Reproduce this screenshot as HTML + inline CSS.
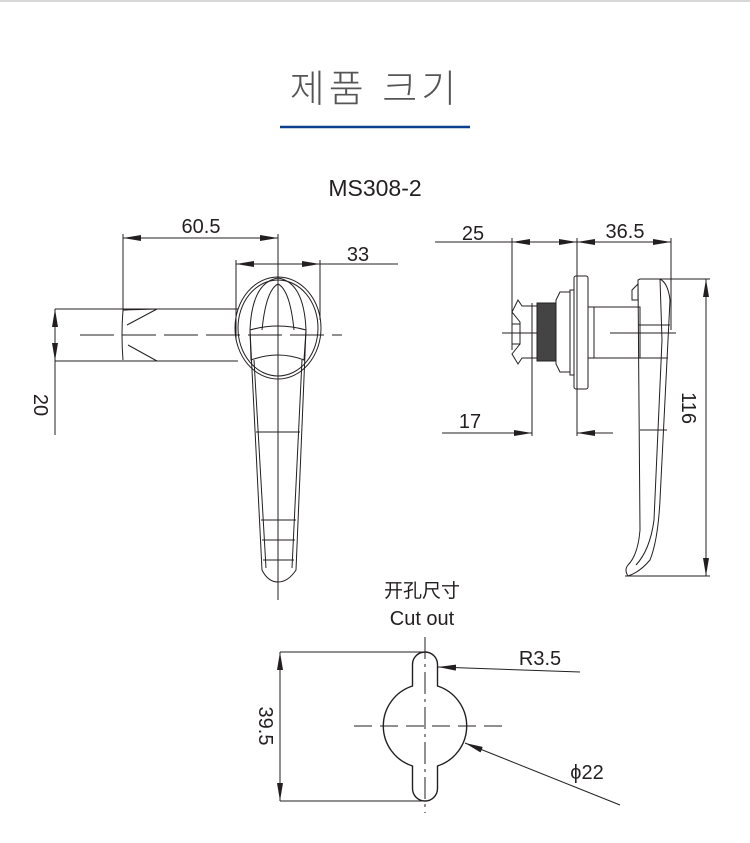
<!DOCTYPE html>
<html><head><meta charset="utf-8"><style>
html,body{margin:0;padding:0;background:#fff;}
svg{display:block;}
text{font-family:"Liberation Sans","Noto Sans CJK SC",sans-serif;fill:#231f20;}
</style></head><body>
<svg width="750" height="843" viewBox="0 0 750 843" xmlns="http://www.w3.org/2000/svg">
<defs>
<marker id="a" viewBox="0 0 18 6" refX="18" refY="3" markerWidth="18" markerHeight="6" markerUnits="userSpaceOnUse" orient="auto-start-reverse"><path d="M0,0 L18,3 L0,6 Z" fill="#231f20"/></marker>
</defs>
<line x1="0" y1="1" x2="750" y2="1" stroke="#ccc" stroke-width="1.5"/>
<text x="375" y="102" font-size="38" text-anchor="middle" style="fill:#555;font-family:'Liberation Sans','Noto Sans CJK KR',sans-serif;font-weight:300" letter-spacing="4">제품 크기</text>
<line x1="280" y1="127" x2="470" y2="127" stroke="#0d3f8f" stroke-width="2.5"/>
<text x="375" y="196" font-size="23" text-anchor="middle">MS308-2</text>

<g stroke="#231f20" stroke-width="1" fill="none">
<line x1="123" y1="238" x2="278" y2="238" marker-start="url(#a)" marker-end="url(#a)"/>
<line x1="123" y1="234" x2="123" y2="312"/>
<line x1="236" y1="264" x2="320" y2="264" marker-start="url(#a)" marker-end="url(#a)"/>
<line x1="320" y1="264" x2="398" y2="264"/>
<line x1="236" y1="260" x2="236" y2="340"/>
<line x1="320" y1="260" x2="320" y2="320"/>
<line x1="278" y1="234" x2="278" y2="600"/>
<line x1="55" y1="309" x2="238" y2="309"/>
<line x1="55" y1="361" x2="238" y2="361"/>
<line x1="55" y1="309" x2="55" y2="361" marker-start="url(#a)" marker-end="url(#a)"/>
<line x1="55" y1="361" x2="55" y2="435"/>
<line x1="80" y1="335" x2="342" y2="335" stroke-dasharray="34,8"/>
<path d="M123,310 Q121,335 123,360 M123,310 L157,309 L127,325 M128,345 L157,361 L126,361"/>
<ellipse cx="278" cy="328" rx="43" ry="51"/>
<ellipse cx="278" cy="328" rx="40" ry="48"/>
<path d="M250,330 Q252,282 278,278 Q304,282 306,330"/>
<path d="M262,330 Q266,290 278,284 Q290,290 294,330"/>
<path d="M250,330 Q278,322 306,330 L304,360 Q278,350 251,360 Z"/>
<path d="M250,330 L262,570 Q268,582 278,582 Q288,582 296,570 L306,330"/>
<path d="M254,360 L266,568 M302,360 L292,568"/>
<line x1="256" y1="432" x2="300" y2="432"/>
<line x1="261" y1="520" x2="296" y2="520"/>
<line x1="262" y1="540" x2="295" y2="540"/>
<line x1="263" y1="560" x2="294" y2="560"/>

<line x1="435" y1="242" x2="512" y2="242"/>
<line x1="512" y1="242" x2="577" y2="242" marker-start="url(#a)" marker-end="url(#a)"/>
<line x1="577" y1="242" x2="671" y2="242" marker-start="url(#a)" marker-end="url(#a)"/>
<line x1="512" y1="238" x2="512" y2="350"/>
<line x1="577" y1="238" x2="577" y2="436"/>
<line x1="671" y1="238" x2="671" y2="330"/>
<line x1="442" y1="433" x2="532" y2="433" marker-end="url(#a)"/>
<line x1="577" y1="433" x2="613" y2="433" marker-start="url(#a)"/>
<line x1="532" y1="303" x2="532" y2="436"/>
<line x1="640" y1="279" x2="710" y2="279"/>
<line x1="625" y1="576" x2="710" y2="576"/>
<line x1="706" y1="279" x2="706" y2="576" marker-start="url(#a)" marker-end="url(#a)"/>
<line x1="502" y1="333" x2="555" y2="333"/>
<line x1="610" y1="333" x2="676" y2="333"/>
<rect x="574" y="276" width="14" height="113" rx="2"/>
<rect x="570" y="290" width="4" height="85"/>
<path d="M556,300 L560,292 L570,292 L570,372 L560,372 L556,364 Z"/>
<rect x="537" y="303" width="19" height="58" fill="#444"/>
<path d="M537,306 L522,306 L518,300 L512,312 L520,322 L520,344 L512,354 L518,364 L522,358 L537,358"/>
<rect x="512" y="324" width="8" height="20"/>
<rect x="588" y="307" width="52" height="51"/>
<line x1="594" y1="307" x2="594" y2="358"/>
<path d="M640,279 L660,279 Q668,283 670,300 L668,340 L660,500 Q658,540 650,560 Q640,572 628,576 Q624,570 628,565 Q638,555 640,530 L638,280 Z"/>
<path d="M660,279 L662,340 L654,520 Q650,550 636,565"/>
<line x1="638" y1="325" x2="670" y2="325"/>
<line x1="638" y1="358" x2="668" y2="358"/>
<line x1="640" y1="430" x2="667" y2="430"/>
<path d="M632,290 L638,284 L638,300 L632,300 Z"/>

<line x1="425" y1="637" x2="425" y2="813" stroke-dasharray="22,5,3,5"/>
<line x1="354" y1="726" x2="507" y2="726" stroke-dasharray="18,8"/>
<path d="M412.5,664.5 A12.5,12.5 0 0 1 437.5,664.5 L437.5,686 A42,42 0 0 1 437.5,766 L437.5,788.5 A12.5,12.5 0 0 1 412.5,788.5 L412.5,766 A42,42 0 0 1 412.5,686 Z" stroke-width="1.4"/>
<line x1="280" y1="652" x2="425" y2="652"/>
<line x1="280" y1="801" x2="425" y2="801"/>
<line x1="280" y1="652" x2="280" y2="801" marker-start="url(#a)" marker-end="url(#a)"/>
<line x1="580" y1="672" x2="438" y2="667" marker-end="url(#a)"/>
<line x1="620" y1="805" x2="465" y2="743" marker-end="url(#a)"/>
</g>

<text x="201" y="233" font-size="20" text-anchor="middle">60.5</text>
<text x="358" y="261" font-size="20" text-anchor="middle">33</text>
<text transform="translate(34,405) rotate(90)" font-size="20" text-anchor="middle">20</text>
<text x="473" y="240" font-size="20" text-anchor="middle">25</text>
<text x="625" y="238" font-size="20" text-anchor="middle">36.5</text>
<text x="470" y="428" font-size="20" text-anchor="middle">17</text>
<text transform="translate(682,408) rotate(90)" font-size="20" text-anchor="middle">116</text>
<text x="422" y="597" font-size="19" text-anchor="middle">开孔尺寸</text>
<text x="422" y="625" font-size="20" text-anchor="middle">Cut out</text>
<text transform="translate(259,726) rotate(90)" font-size="20" text-anchor="middle">39.5</text>
<text x="540" y="665" font-size="20" text-anchor="middle">R3.5</text>
<text x="587" y="779" font-size="20" text-anchor="middle">ϕ22</text>
</svg>
</body></html>
